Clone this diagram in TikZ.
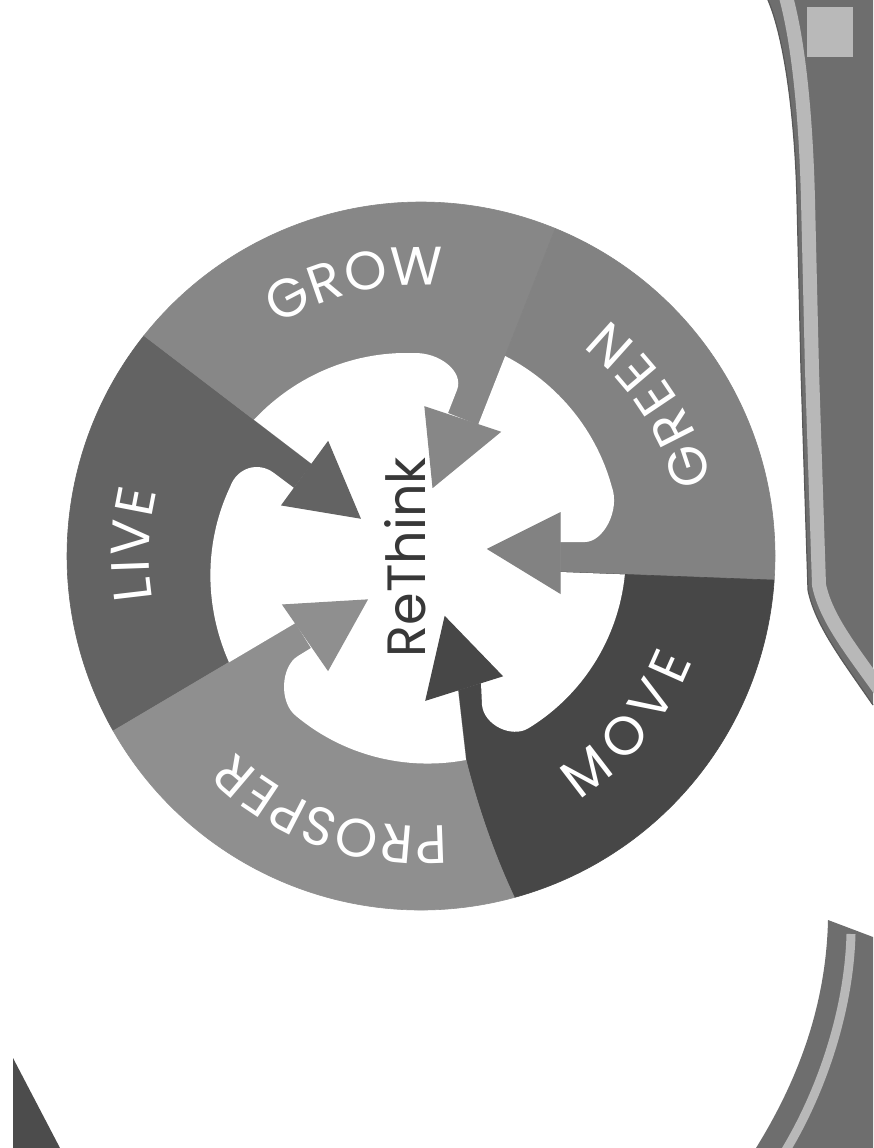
\documentclass[tikz,border=0pt]{standalone}
\usepackage{fontspec}
\usepackage{graphicx}
\newfontfamily\pop{Poppins}
\usetikzlibrary{calc}
\definecolor{cLive}{gray}{0.39}
\definecolor{cGrow}{gray}{0.53}
\definecolor{cGreen}{gray}{0.51}
\definecolor{cMove}{gray}{0.28}
\definecolor{cProsper}{gray}{0.56}
\definecolor{bandc}{gray}{0.43}
\definecolor{stripec}{gray}{0.72}
\definecolor{speck}{gray}{0.965}
\newcommand{\spir}[4]{-- plot[domain=#1:#3, samples=30, variable=\t]
  ({421+((#2)+((#4)-(#2))*(\t-(#1))/((#3)-(#1)))*cos(\t)},
   {-556+((#2)+((#4)-(#2))*(\t-(#1))/((#3)-(#1)))*sin(\t)})}
\newcommand{\lett}[1]{\makebox[0pt][c]{#1}}
\tikzset{
  seg/.style={line width=0.6pt, line join=round},
  headtri/.style={line width=1.2pt, line join=miter},
  ringletter/.style={inner sep=0pt, anchor=center, text=white, font=\pop\fontsize{54}{54}\selectfont}
}
\begin{document}
\begin{tikzpicture}[x=1pt,y=1pt]
\useasboundingbox (0,0) rectangle (873,-1148);
\fill[white] (0,0) rectangle (873,-1148);
% faint speckled paper area
\fill[speck] (0,0) -- (430,0) .. controls (300,120) and (130,300) .. (50,650) -- (0,950) -- cycle;
% right band
\fill[bandc] (768,0) .. controls (785,-40) and (795,-120) .. (797,-200) -- (801,-370) -- (808,-590)
  .. controls (815,-625) and (842,-660) .. (873,-705) -- (873,0) -- cycle;
\draw[stripec, line width=14pt] (784,10) .. controls (799,-40) and (806,-120) .. (808,-200) -- (812,-370) -- (819,-585)
  .. controls (826,-618) and (850,-648) .. (880,-690);
\draw[black!65, line width=1.2pt] (768,0) .. controls (785,-40) and (795,-120) .. (797,-200) -- (801,-370) -- (808,-590)
  .. controls (815,-625) and (842,-660) .. (873,-705);
\fill[gray!55] (807,-7) rectangle (853,-57);
% bottom right shape
\fill[bandc] (828,-920) -- (873,-937) -- (873,-1148) -- (756,-1148) .. controls (795,-1085) and (826,-1010) .. (828,-920) -- cycle;
\draw[stripec, line width=9pt] (851,-934) .. controls (849,-1010) and (822,-1090) .. (786,-1150);
% bottom left corner
\fill[black!70] (13,-1058) -- (13,-1148) -- (60,-1148) -- cycle;

% ---- ring geometry ----
\coordinate (C) at (421,-556);
\coordinate (PL) at ($(C)+(141.5:354)$);
\coordinate (PG) at ($(C)+(67.7:354)$);
\coordinate (PN) at ($(C)+(-3.9:354)$);
\coordinate (PM) at ($(C)+(-74.7:354)$);
\coordinate (PP) at ($(C)+(209.6:354)$);
\coordinate (LbL) at (312,-464);
\coordinate (LbG) at (478,-425);
\coordinate (LbN) at (560,-572);
\coordinate (LbM) at (458,-690);
\coordinate (LbP) at (295.5,-623);
\coordinate (TbL) at (294,-488);
\coordinate (TbG) at (448,-413);
\coordinate (TbN) at (560,-542);
\coordinate (TbM) at (481,-683);
\coordinate (TbP) at (311,-648);
\coordinate (SG) at ($(PL)!0.655!(LbL)$);
\coordinate (SN) at ($(PG)!0.649!(LbG)$);
\coordinate (SM) at ($(LbN)!0.303!(PN)$);
\coordinate (SP) at (466,-760);
\coordinate (SL) at ($(PP)!0.635!(LbP)$);

% segments
\filldraw[seg, fill=cLive, draw=cLive] (PL) -- (LbL) -- (C) -- (LbP) -- (PP) arc[start angle=209.6, end angle=141.5, radius=354] -- cycle;
\filldraw[seg, fill=cGrow, draw=cGrow] (PG) -- (LbG) -- (C) -- (LbL) -- (PL) arc[start angle=141.5, end angle=67.7, radius=354] -- cycle;
\filldraw[seg, fill=cGreen, draw=cGreen] (PN) -- (LbN) -- (C) -- (LbG) -- (PG) arc[start angle=67.7, end angle=-3.9, radius=354] -- cycle;
\filldraw[seg, fill=cMove, draw=cMove] (PM) .. controls (492,-850) and (476,-800) .. (SP) -- (LbM) -- (C) -- (LbN) -- (PN) arc[start angle=-3.9, end angle=-74.7, radius=354] -- cycle;
\filldraw[seg, fill=cProsper, draw=cProsper] (PP) -- (LbP) -- (C) -- (LbM) -- (SP) .. controls (476,-800) and (492,-850) .. (PM) arc[start angle=-74.7, end angle=-150.4, radius=354] -- cycle;

% white interior with lobes
\fill[white] (SL) \spir{209.0}{219.5}{160}{203}
   .. controls (237,-467.8) and (258,-461) .. (274,-473) -- (TbL) -- (LbL) -- (SG)
   \spir{140.8}{215.6}{92}{203}
   .. controls (439,-352) and (464.3,-371.4) .. (457,-390) -- (TbG) -- (LbG) -- (SN)
   \spir{67.2}{217}{20}{203}
   .. controls (620.5,-510.5) and (603,-542) .. (585,-542) -- (TbN) -- (LbN) -- (SM)
   \spir{-5.2}{204.7}{-58}{203}
   .. controls (511.6,-738.6) and (484,-725) .. (482,-705) -- (TbM) -- (LbM) -- (SP)
   \spir{-77.6}{208.9}{-128}{203}
   .. controls (278.7,-702.5) and (280.8,-666.2) .. (298,-656) -- (TbP) -- (LbP) -- cycle;

% arrow heads
\filldraw[headtri, fill=cLive, draw=cLive] (282,-505) -- (328,-442) -- (360,-518) -- cycle;
\filldraw[headtri, fill=cGrow, draw=cGrow] (425,-407) -- (500,-432) -- (433,-487) -- cycle;
\filldraw[headtri, fill=cGreen, draw=cGreen] (560,-513) -- (560,-593) -- (488,-549) -- cycle;
\filldraw[headtri, fill=cMove, draw=cMove] (502,-676) -- (426,-700) -- (445,-617) -- cycle;
\filldraw[headtri, fill=cProsper, draw=cProsper] (328,-670) -- (283,-605) -- (367,-600) -- cycle;

% centre text
\node[rotate=90, inner sep=0, text=black!78] (rethink) at (405,-557) {\resizebox{200pt}{41pt}{\pop ReThink}};

% ring labels, letter by letter (clockwise, tops outward)
\foreach \ch/\ang [count=\i] in {G/117.4, R/109.3, O/101.0, W/90.8}
  \node[ringletter, rotate=\ang-90] (grow-\i) at ($(C)+(\ang:290)$) {\lett{\ch}};
\foreach \ch/\ang [count=\i] in {L/186.7, I/182.0, V/176.4, E/169.1}
  \node[ringletter, rotate=\ang-90] (live-\i) at ($(C)+(\ang:291)$) {\lett{\ch}};
\foreach \ch/\ang [count=\i] in {P/-88, R/-94.9, O/-102.9, S/-110.7, P/-117.3, E/-123.8, R/-130.4}
  \node[ringletter, rotate=\ang-90] (prosper-\i) at ($(C)+(\ang:289)$) {\lett{\ch}};
% ring labels (counter-clockwise, tops inward)
\foreach \ch/\ang [count=\i] in {G/18.5, R/26.9, E/33.9, E/40.4, N/48.1}
  \node[ringletter, rotate=\ang+90] (green-\i) at ($(C)+(\ang:282)$) {\lett{\ch}};
\foreach \ch/\ang [count=\i] in {M/-52.5, O/-41.6, V/-32.0, E/-24.0}
  \node[ringletter, rotate=\ang+90] (move-\i) at ($(C)+(\ang:272)$) {\lett{\ch}};
\end{tikzpicture}
\end{document}
